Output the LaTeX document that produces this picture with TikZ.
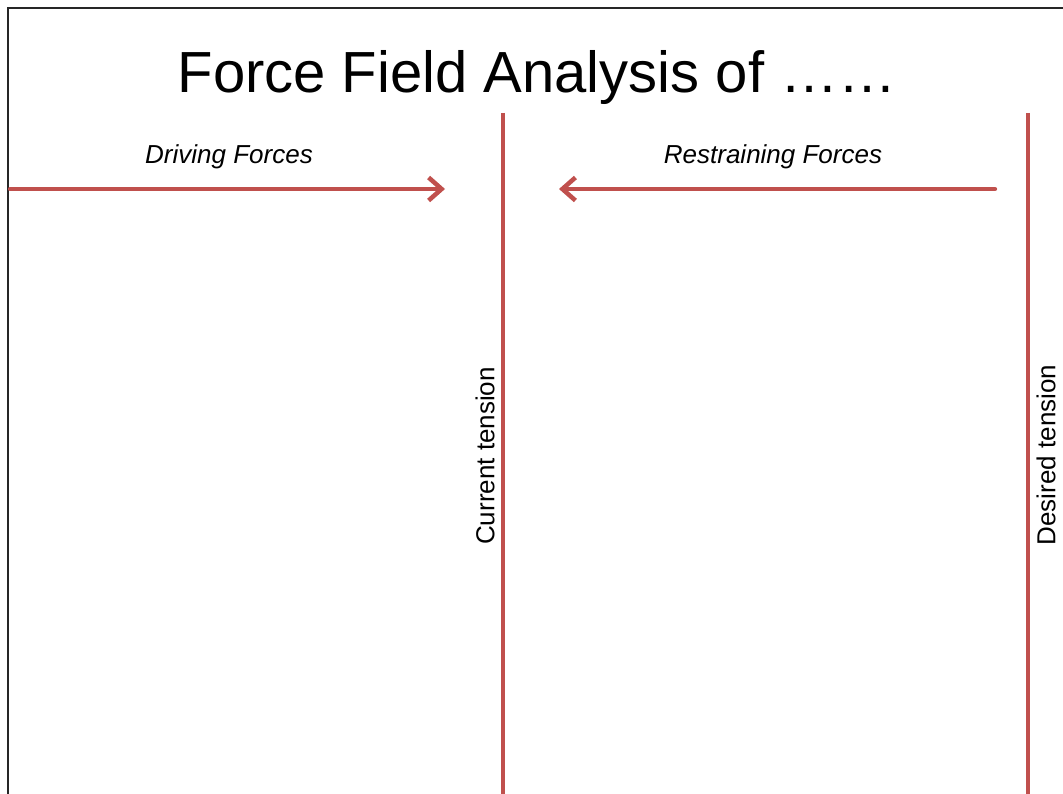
\documentclass[tikz,border=0pt]{standalone}
\usepackage{fontspec}
\setmainfont{Liberation Sans}
\usetikzlibrary{arrows.meta}
\definecolor{forcered}{HTML}{C0504D}
\begin{document}
\begin{tikzpicture}[x=1pt,y=-1pt,
  frame/.style={draw=black!85,line width=2.4pt},
  forceline/.style={draw=forcered,line width=4.2pt},
  forcearrow/.style={forceline,line cap=round,-{Straight Barb[length=13pt,width=23pt,line width=4.5pt]}},
  heading/.style={font=\fontsize{58}{66}\selectfont,inner sep=0pt},
  sidelabel/.style={font=\itshape\fontsize{26}{30}\selectfont,inner sep=0pt},
  tensionlabel/.style={font=\fontsize{26}{30}\selectfont,inner sep=0pt,rotate=90}]
\useasboundingbox (0,0) rectangle (1063,794);
% slide frame (runs off the right and bottom edges)
\draw[frame] (1090,8) -- (8,8) -- (8,820);
% title
\node[heading] (title) at (537,78) {Force Field Analysis of ……};
% column headings
\node[sidelabel] (driving) at (229,157) {Driving Forces};
\node[sidelabel] (restraining) at (773,157) {Restraining Forces};
% tension lines
\coordinate (curtop) at (503,113);
\coordinate (curbot) at (503,820);
\coordinate (destop) at (1028,113);
\coordinate (desbot) at (1028,820);
\draw[forceline] (curtop) -- (curbot);
\draw[forceline] (destop) -- (desbot);
% force arrows
\coordinate (dstart) at (10,189);
\coordinate (dend) at (445,189);
\coordinate (rstart) at (995,189);
\coordinate (rend) at (559,189);
\draw[forcearrow] (dstart) -- (dend);
\draw[forcearrow] (rstart) -- (rend);
% tension labels
\node[tensionlabel] (current) at (485,456) {Current tension};
\node[tensionlabel] (desired) at (1046,455) {Desired tension};
\end{tikzpicture}
\end{document}
